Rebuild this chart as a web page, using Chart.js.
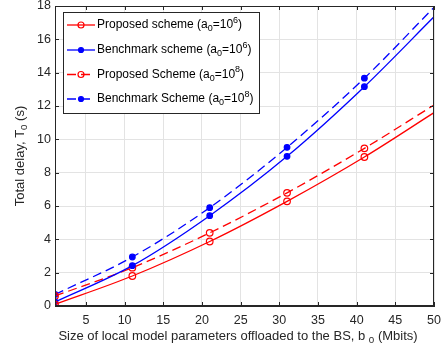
<!DOCTYPE html>
<html><head><meta charset="utf-8">
<script src="https://cdn.jsdelivr.net/npm/chart.js@4/dist/chart.umd.min.js"></script>
<style>html,body{margin:0;padding:0;background:#fff}#wrap{width:444px;height:349px}</style>
</head><body><div id="wrap"><canvas id="c" width="444" height="349"></canvas></div>
<script>
const xVals = [1, 11, 21, 31, 41, 50];
const propA6 = [0.10, 1.80, 3.87, 6.28, 8.94, 11.60];
const benchA6 = [0.24, 2.42, 5.42, 8.98, 13.16, 17.35];
const propA8 = [0.60, 2.30, 4.39, 6.79, 9.46, 12.06];
const benchA8 = [0.69, 2.94, 5.90, 9.52, 13.67, 17.92];
const xTicks = [5, 10, 15, 20, 25, 30, 35, 40, 45, 50];
const yTicks = [0, 2, 4, 6, 8, 10, 12, 14, 16, 18];
const labels = [
  "Proposed scheme (a0=10^6)",
  "Benchmark scheme (a0=10^6)",
  "Proposed Scheme (a0=10^8)",
  "Benchmark Scheme (a0=10^8)"
];
const legendRich = [
  [["Proposed scheme (a","n"],["0","sub"],["=10","n"],["6","sup"],[")","n"]],
  [["Benchmark scheme (a","n"],["0","sub"],["=10","n"],["6","sup"],[")","n"]],
  [["Proposed Scheme (a","n"],["0","sub"],["=10","n"],["8","sup"],[")","n"]],
  [["Benchmark Scheme (a","n"],["0","sub"],["=10","n"],["8","sup"],[")","n"]]
];
const FONT = "Liberation Sans, Arial, Helvetica, sans-serif";
const RED = "#ff0000", BLUE = "#0000ff";
const mk = (arr) => xVals.map((x, i) => ({x: x, y: arr[i]}));
const radii = xVals.map(x => x === 50 ? 0 : 3.3);
const radiiB = xVals.map(x => x === 50 ? 0 : 2.8);

function ds(label, arr, color, dashed, filled) {
  return {
    label: label, data: mk(arr), borderColor: color, borderWidth: 1.3,
    borderDash: dashed ? [9, 5] : [],
    backgroundColor: filled ? color : "rgba(0,0,0,0)",
    pointBackgroundColor: filled ? color : "rgba(0,0,0,0)",
    pointBorderColor: color, pointBorderWidth: 1.2,
    pointRadius: filled ? radiiB : radii, pointHoverRadius: 0,
    cubicInterpolationMode: "monotone", fill: false
  };
}

function drawRich(ctx, segs, x, y, size) {
  let cx = x;
  for (const [t, k] of segs) {
    if (k === "n") { ctx.font = size + "px " + FONT; ctx.fillText(t, cx, y); }
    else if (k === "sub") { ctx.font = (size * 0.75) + "px " + FONT; ctx.fillText(t, cx, y + size * 0.3); }
    else { ctx.font = (size * 0.75) + "px " + FONT; ctx.fillText(t, cx, y - size * 0.4); }
    cx += ctx.measureText(t).width;
  }
  return cx - x;
}
function richWidth(ctx, segs, size) {
  let w = 0;
  for (const [t, k] of segs) {
    ctx.font = (k === "n" ? size : size * 0.75) + "px " + FONT;
    w += ctx.measureText(t).width;
  }
  return w;
}

const decor = {
  id: "decor",
  afterDraw(chart) {
    const ctx = chart.ctx, a = chart.chartArea;
    const xs = chart.scales.x, ys = chart.scales.y;
    ctx.save();
    ctx.strokeStyle = "#262626"; ctx.lineWidth = 1;
    ctx.strokeRect(Math.round(a.left) + 0.5, Math.round(a.top) + 0.5, Math.round(a.right - a.left) - 1, Math.round(a.bottom - a.top) - 1);
    ctx.beginPath();
    for (const v of xTicks) {
      const px = Math.round(xs.getPixelForValue(v)) + 0.5;
      ctx.moveTo(px, a.bottom); ctx.lineTo(px, a.bottom - 4);
      ctx.moveTo(px, a.top); ctx.lineTo(px, a.top + 4);
    }
    for (const v of yTicks) {
      const py = Math.round(ys.getPixelForValue(v)) + 0.5;
      ctx.moveTo(a.left, py); ctx.lineTo(a.left + 4, py);
      ctx.moveTo(a.right, py); ctx.lineTo(a.right - 4, py);
    }
    ctx.stroke();
    // legend
    const lx = 63, ly = 12, lw = 196, lh = 101;
    ctx.fillStyle = "#fff"; ctx.fillRect(lx, ly, lw, lh);
    ctx.strokeStyle = "#262626"; ctx.lineWidth = 1;
    ctx.strokeRect(lx + 0.5, ly + 0.5, lw, lh);
    const rows = [25, 50, 74.5, 99];
    const styles = [[RED, false, false], [BLUE, false, true], [RED, true, false], [BLUE, true, true]];
    rows.forEach((ry, i) => {
      const [col, dashed, filled] = styles[i];
      ctx.strokeStyle = col; ctx.lineWidth = 1.3;
      ctx.setLineDash(dashed ? [9, 5] : []);
      ctx.beginPath(); ctx.moveTo(67, ry); ctx.lineTo(95, ry); ctx.stroke();
      ctx.setLineDash([]);
      ctx.beginPath(); ctx.arc(81, ry, filled ? 2.5 : 3, 0, Math.PI * 2);
      if (filled) { ctx.fillStyle = col; ctx.fill(); }
      ctx.lineWidth = 1.2; ctx.stroke();
      ctx.fillStyle = "#000"; ctx.textBaseline = "middle"; ctx.textAlign = "left";
      drawRich(ctx, legendRich[i], 97, ry, 12);
    });
    // axis titles
    ctx.fillStyle = "#262626"; ctx.textBaseline = "middle"; ctx.textAlign = "left";
    const xt = [["Size of local model parameters offloaded to the BS, b ","n"],["0","sub"],[" (Mbits)","n"]];
    const xw = richWidth(ctx, xt, 13);
    drawRich(ctx, xt, 238 - xw / 2, 336, 13);
    const yt = [["Total delay, T","n"],["0","sub"],[" (s)","n"]];
    const yw = richWidth(ctx, yt, 13);
    ctx.translate(20, (a.top + a.bottom) / 2);
    ctx.rotate(-Math.PI / 2);
    drawRich(ctx, yt, -yw / 2, 0, 13);
    ctx.restore();
  }
};

new Chart(document.getElementById("c"), {
  type: "line",
  data: { datasets: [
    ds(labels[0], propA6, RED, false, false),
    ds(labels[1], benchA6, BLUE, false, true),
    ds(labels[2], propA8, RED, true, false),
    ds(labels[3], benchA8, BLUE, true, true)
  ]},
  options: {
    responsive: false, animation: false,
    layout: { padding: { left: 0, right: 10, top: 6, bottom: 0 } },
    plugins: { legend: { display: false }, tooltip: { enabled: false } },
    scales: {
      x: {
        type: "linear", min: 1, max: 50,
        afterBuildTicks: s => { s.ticks = xTicks.map(v => ({ value: v })); },
        afterFit: s => { s.height = 43; s.paddingLeft = 0; s.paddingRight = 0; },
        grid: { color: "#e3e3e3", drawTicks: false, lineWidth: 1 },
        border: { color: "#262626" },
        ticks: { color: "#262626", font: { family: FONT, size: 12.5 }, padding: 7, maxRotation: 0, autoSkip: false }
      },
      y: {
        type: "linear", min: 0, max: 18,
        afterBuildTicks: s => { s.ticks = yTicks.map(v => ({ value: v })); },
        afterFit: s => { s.width = 55; s.paddingTop = 0; s.paddingBottom = 0; },
        grid: { color: "#e3e3e3", drawTicks: false, lineWidth: 1 },
        border: { color: "#262626" },
        ticks: { color: "#262626", font: { family: FONT, size: 12.5 }, padding: 4, autoSkip: false }
      }
    }
  },
  plugins: [decor]
});
</script>
</body></html>
